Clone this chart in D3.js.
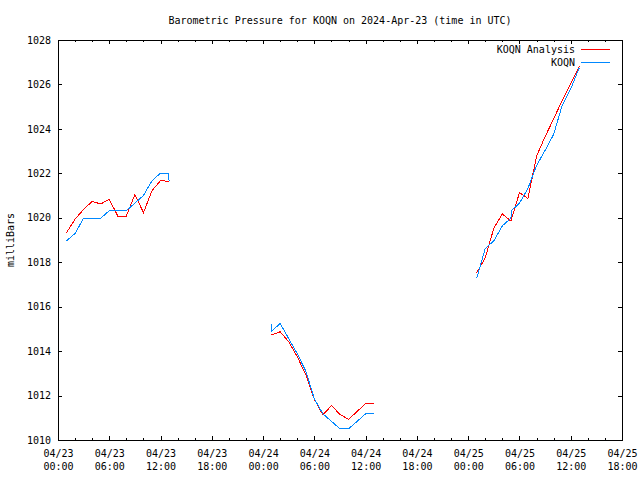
<!DOCTYPE html>
<html><head><meta charset="utf-8">
<script src="https://cdn.jsdelivr.net/npm/d3@7"></script>
<style>
body{margin:0;background:#fff}
svg{display:block}
text{font-family:"DejaVu Sans Mono",monospace;font-size:10px;fill:#000}
</style>
</head><body><svg id="c" width="640" height="480"></svg>
<script>
const title = "Barometric Pressure for KOQN on 2024-Apr-23 (time in UTC)";
const yLabel = "milliBars";
const seriesNames = ["KOQN Analysis", "KOQN"];
const seriesColors = ["#ff0000", "#0088ff"];

// Analysis series (null = gap)
const analysisTimes = [
  "2024-04-23T01:00","2024-04-23T02:00","2024-04-23T03:00","2024-04-23T04:00","2024-04-23T05:00",
  "2024-04-23T06:00","2024-04-23T07:00","2024-04-23T08:00","2024-04-23T09:00","2024-04-23T10:00",
  "2024-04-23T11:00","2024-04-23T12:00","2024-04-23T13:00",
  "2024-04-23T18:00",
  "2024-04-24T01:00","2024-04-24T02:00","2024-04-24T03:00","2024-04-24T04:00","2024-04-24T05:00",
  "2024-04-24T06:00","2024-04-24T07:00","2024-04-24T08:00","2024-04-24T09:00","2024-04-24T10:00",
  "2024-04-24T11:00","2024-04-24T12:00","2024-04-24T13:00",
  "2024-04-24T18:00",
  "2024-04-25T01:00","2024-04-25T02:00","2024-04-25T03:00","2024-04-25T04:00","2024-04-25T05:00",
  "2024-04-25T06:00","2024-04-25T07:00","2024-04-25T08:00","2024-04-25T09:00","2024-04-25T10:00",
  "2024-04-25T11:00","2024-04-25T12:00","2024-04-25T13:00"
];
const analysisValues = [
  1019.33,1019.94,1020.38,1020.74,1020.62,1020.83,1020.08,1020.08,1021.05,1020.23,1021.22,1021.67,1021.64,
  null,
  1014.73,1014.87,1014.42,1013.75,1012.93,1011.83,1011.13,1011.55,1011.15,1010.93,1011.28,1011.65,1011.65,
  null,
  1017.53,1018.20,1019.53,1020.17,1019.85,1021.13,1020.87,1022.78,1023.65,1024.45,1025.28,1026.05,1026.82
];

// Observed series (null = gap)
const obsTimes = [
  "2024-04-23T01:00","2024-04-23T02:00","2024-04-23T03:00","2024-04-23T04:00","2024-04-23T05:00",
  "2024-04-23T06:00","2024-04-23T07:00","2024-04-23T08:00","2024-04-23T09:00","2024-04-23T10:00",
  "2024-04-23T11:00","2024-04-23T12:00","2024-04-23T12:54","2024-04-23T13:00",
  "2024-04-23T18:00",
  "2024-04-24T00:56","2024-04-24T01:00","2024-04-24T02:00","2024-04-24T03:00","2024-04-24T04:00",
  "2024-04-24T05:00","2024-04-24T06:00","2024-04-24T07:00","2024-04-24T08:00","2024-04-24T09:00",
  "2024-04-24T10:00","2024-04-24T11:00","2024-04-24T12:00","2024-04-24T13:00",
  "2024-04-24T18:00",
  "2024-04-25T01:00","2024-04-25T02:00","2024-04-25T03:00","2024-04-25T04:00","2024-04-25T05:00",
  "2024-04-25T05:04","2024-04-25T06:00","2024-04-25T07:00","2024-04-25T08:00","2024-04-25T09:00",
  "2024-04-25T10:00","2024-04-25T11:00","2024-04-25T12:00","2024-04-25T13:00"
];
const obsValues = [
  1018.96,1019.30,1019.98,1019.98,1019.98,1020.32,1020.32,1020.32,1020.66,1021.00,1021.67,1022.01,1022.01,1021.67,
  null,
  1015.24,1014.90,1015.24,1014.56,1013.88,1013.10,1011.85,1011.18,1010.84,1010.50,1010.50,1010.84,1011.18,1011.18,
  null,
  1017.27,1018.62,1018.96,1019.64,1019.98,1020.32,1020.66,1021.33,1022.35,1023.03,1023.75,1025.06,1025.80,1026.75
];

const xDomain = ["2024-04-23T00:00", "2024-04-25T18:00"];
const xTicks = ["2024-04-23T00:00","2024-04-23T06:00","2024-04-23T12:00","2024-04-23T18:00",
                "2024-04-24T00:00","2024-04-24T06:00","2024-04-24T12:00","2024-04-24T18:00",
                "2024-04-25T00:00","2024-04-25T06:00","2024-04-25T12:00","2024-04-25T18:00"];
const xTickLabels = ["04/23\n00:00","04/23\n06:00","04/23\n12:00","04/23\n18:00",
                     "04/24\n00:00","04/24\n06:00","04/24\n12:00","04/24\n18:00",
                     "04/25\n00:00","04/25\n06:00","04/25\n12:00","04/25\n18:00"];
const yDomain = [1010, 1028];
const yTicks = [1010,1012,1014,1016,1018,1020,1022,1024,1026,1028];

const parse = d3.utcParse("%Y-%m-%dT%H:%M");
const svg = d3.select("#c");
const L = 58, R = 622, T = 40, B = 440;

const x = d3.scaleUtc().domain(xDomain.map(parse)).range([L, R]);
const y = d3.scaleLinear().domain(yDomain).range([B, T]);

const xt = xTicks.map(parse);
const xMinor = d3.utcHour.every(2).range(parse(xDomain[0]), d3.utcHour.offset(parse(xDomain[1]), 1))
  .filter(d => d.getUTCHours() % 6 !== 0);

// Frame
svg.append("rect").attr("x", L).attr("y", T).attr("width", R - L).attr("height", B - T)
  .attr("fill", "none").attr("stroke", "#000").attr("shape-rendering", "crispEdges");

function styleAxis(g) {
  g.select(".domain").remove();
  g.selectAll("line").attr("shape-rendering", "crispEdges").attr("stroke", "#000");
}

// Bottom major with labels
const gB = svg.append("g").attr("transform", `translate(0,${B})`)
  .call(d3.axisBottom(x).tickValues(xt).tickSizeInner(-4).tickSizeOuter(0)
    .tickFormat((d, i) => xTickLabels[i]))
  .call(styleAxis);
gB.selectAll("text").each(function() {
  const t = d3.select(this);
  const parts = t.text().split("\n");
  t.text(null).attr("y", 0).attr("dy", null)
    .attr("font-family", null).attr("font-size", null);
  parts.forEach((p, i) => t.append("tspan").attr("x", 0).attr("y", 17 + i * 13).text(p));
});
svg.append("g").attr("transform", `translate(0,${B})`)
  .call(d3.axisBottom(x).tickValues(xMinor).tickSizeInner(-2).tickSizeOuter(0).tickFormat(""))
  .call(styleAxis);
// Top mirror
svg.append("g").attr("transform", `translate(0,${T})`)
  .call(d3.axisTop(x).tickValues(xt).tickSizeInner(-4).tickSizeOuter(0).tickFormat(""))
  .call(styleAxis);
svg.append("g").attr("transform", `translate(0,${T})`)
  .call(d3.axisTop(x).tickValues(xMinor).tickSizeInner(-2).tickSizeOuter(0).tickFormat(""))
  .call(styleAxis);
// Left with labels
const gL = svg.append("g").attr("transform", `translate(${L},0)`)
  .call(d3.axisLeft(y).tickValues(yTicks).tickSizeInner(-4).tickSizeOuter(0).tickPadding(7)
    .tickFormat(d3.format("d")))
  .call(styleAxis);
gL.selectAll("text").attr("font-family", null).attr("font-size", null);
// Right mirror
svg.append("g").attr("transform", `translate(${R},0)`)
  .call(d3.axisRight(y).tickValues(yTicks).tickSizeInner(-4).tickSizeOuter(0).tickFormat(""))
  .call(styleAxis);

// Title & y label
svg.append("text").attr("x", (L + R) / 2).attr("y", 24).attr("text-anchor", "middle").text(title);
svg.append("text").attr("transform", "translate(14,240) rotate(-90)").attr("text-anchor", "middle").text(yLabel);

// Series lines
const line = d3.line().defined(d => d.v != null).x(d => x(d.t)).y(d => y(d.v));
const analysis = analysisTimes.map((t, i) => ({t: parse(t), v: analysisValues[i]}));
const obs = obsTimes.map((t, i) => ({t: parse(t), v: obsValues[i]}));
[analysis, obs].forEach((data, i) => {
  svg.append("path").datum(data).attr("d", line).attr("fill", "none")
    .attr("stroke", seriesColors[i]).attr("stroke-width", 1).attr("shape-rendering", "crispEdges");
});

// Legend
seriesNames.forEach((name, i) => {
  const ly = 49 + i * 13;
  svg.append("text").attr("x", 575).attr("y", ly + 3.5).attr("text-anchor", "end").text(name);
  svg.append("line").attr("x1", 581).attr("x2", 610).attr("y1", ly).attr("y2", ly)
    .attr("stroke", seriesColors[i]).attr("shape-rendering", "crispEdges");
});
</script>
</body></html>
